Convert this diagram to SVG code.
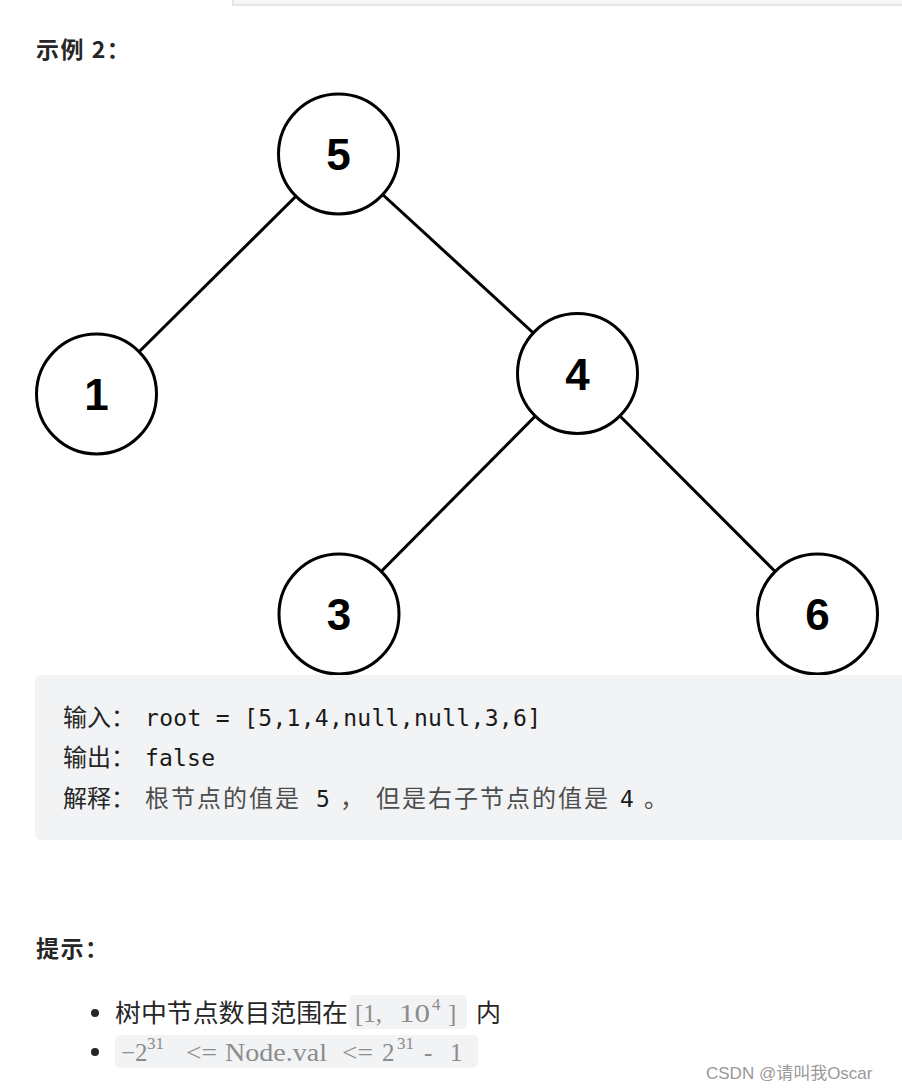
<svg xmlns="http://www.w3.org/2000/svg" width="902" height="1090" viewBox="0 0 902 1090">
<style>
.node circle{fill:#fff;stroke:#000;stroke-width:3}
.node text{font-family:"Liberation Sans",Arial,sans-serif;font-weight:bold;font-size:44px;text-anchor:middle;fill:#000}
.edges line{stroke:#000;stroke-width:3}
.h{font-family:"Noto Sans CJK SC","Noto Sans",sans-serif;font-weight:bold;font-size:23px;letter-spacing:1.5px;fill:#262626}
.cj{font-family:"Noto Sans CJK SC",sans-serif;font-size:24px;fill:#262626}
.cjl{font-family:"Noto Sans CJK SC",sans-serif;font-size:24px;letter-spacing:2px;fill:#4d4d4d}
.mono{font-family:"DejaVu Sans Mono","Liberation Mono",monospace;font-size:23px;fill:#1a1a1a}
.li{font-family:"Noto Sans CJK SC","Noto Sans",sans-serif;font-size:25px;fill:#262626}
.code{font-family:"Liberation Serif","Noto Sans CJK SC",serif;font-size:25px;fill:#8c8c8c}
.sup{font-size:17px}
.cbg{fill:#f2f3f5}
</style>
<rect x="233" y="-6" width="680" height="11" fill="#f7f7f7" stroke="#e6e6e6" stroke-width="2"/>
<text class="h" x="36" y="58">示例 2：</text>
<g class="edges">
<line x1="338.5" y1="154" x2="96.5" y2="394"/>
<line x1="338.5" y1="154" x2="577.5" y2="373.5"/>
<line x1="577.5" y1="373.5" x2="339" y2="614"/>
<line x1="577.5" y1="373.5" x2="817.5" y2="614"/>
</g>
<g id="n5" class="node"><circle cx="338.5" cy="154" r="60"/><text x="338.5" y="170">5</text></g>
<g id="n1" class="node"><circle cx="96.5" cy="394" r="60"/><text x="96.5" y="410">1</text></g>
<g id="n4" class="node"><circle cx="577.5" cy="373.5" r="60"/><text x="577.5" y="389.5">4</text></g>
<g id="n3" class="node"><circle cx="339" cy="614" r="60"/><text x="339" y="630">3</text></g>
<g id="n6" class="node"><circle cx="817.5" cy="614" r="60"/><text x="817.5" y="630">6</text></g>
<rect class="cbg" x="35" y="675" width="880" height="165" rx="6"/>
<text class="cj" x="63" y="726">输入：</text>
<text class="mono" x="145" y="726" textLength="396" lengthAdjust="spacing">root = [5,1,4,null,null,3,6]</text>
<text class="cj" x="63" y="766">输出：</text>
<text class="mono" x="145" y="766" textLength="70" lengthAdjust="spacing">false</text>
<text class="cj" x="63" y="807">解释：</text>
<text class="cjl" x="145" y="807">根节点的值是</text>
<text class="mono" x="316" y="807">5</text>
<text class="cjl" x="340" y="807">，</text>
<text class="cjl" x="376" y="807">但是右子节点的值是</text>
<text class="mono" x="620" y="807">4</text>
<text class="cjl" x="644" y="807">。</text>
<text class="h" x="36" y="957">提示：</text>
<circle cx="95" cy="1013" r="4" fill="#262626"/>
<circle cx="95" cy="1052" r="4" fill="#262626"/>
<text class="li" x="115" y="1022" textLength="233" lengthAdjust="spacingAndGlyphs">树中节点数目范围在</text>
<rect class="cbg" x="349" y="995" width="118" height="34" rx="5"/>
<text class="code" x="355" y="1022">[1,</text>
<text class="code" x="399" y="1022" textLength="31" lengthAdjust="spacingAndGlyphs">10</text>
<text class="code sup" x="432" y="1010">4</text>
<text class="code" x="448" y="1022">]</text>
<text class="li" x="476" y="1022">内</text>
<rect class="cbg" x="115" y="1035" width="363" height="33" rx="5"/>
<text class="code" x="121" y="1061">−2</text>
<text class="code sup" x="147" y="1049">31</text>
<text class="code" x="186" y="1061" textLength="31" lengthAdjust="spacingAndGlyphs">&lt;=</text>
<text class="code" x="225" y="1061" textLength="102" lengthAdjust="spacingAndGlyphs">Node.val</text>
<text class="code" x="342" y="1061" textLength="31" lengthAdjust="spacingAndGlyphs">&lt;=</text>
<text class="code" x="382" y="1061">2</text>
<text class="code sup" x="397" y="1049">31</text>
<text class="code" x="424" y="1061">-</text>
<text class="code" x="450" y="1061">1</text>
<text x="706" y="1079" font-family="'Liberation Sans','Noto Sans CJK SC',sans-serif" font-size="17" fill="#999">CSDN @请叫我Oscar</text>
</svg>
